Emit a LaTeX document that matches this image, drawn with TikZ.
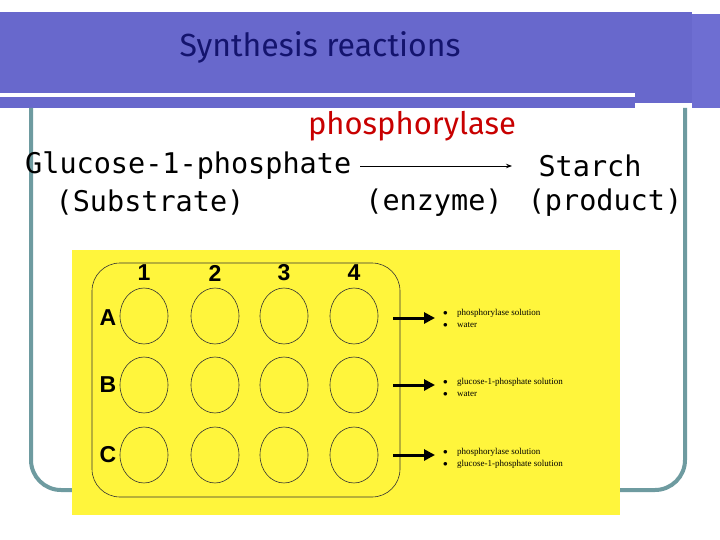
\documentclass[tikz,border=0pt]{standalone}
\usepackage{fontspec}
\usetikzlibrary{shapes.geometric,arrows.meta}
\setmainfont{Liberation Serif}
\newfontfamily\monof{DejaVu Sans Mono}
\newfontfamily\titf{Fira Sans}
\newfontfamily\labf{Liberation Sans}
\definecolor{band}{RGB}{104,104,204}
\definecolor{bandr}{RGB}{110,110,210}
\definecolor{navy}{RGB}{20,20,110}
\definecolor{teal2}{RGB}{110,155,160}
\definecolor{enzred}{RGB}{200,0,0}
\definecolor{sheet}{RGB}{255,245,60}
\begin{document}
\begin{tikzpicture}[x=1pt,y=-1pt,
  well/.style={draw=black!80,line width=0.6pt,ellipse,minimum width=48pt,minimum height=56pt,inner sep=0pt},
  collab/.style={font=\labf\bfseries\fontsize{23}{23}\selectfont},
  big/.style={font=\monof\fontsize{28.5}{28}\selectfont,inner sep=0pt},
  note/.style={font=\fontsize{9}{10}\selectfont,anchor=west,inner sep=0pt}]
\useasboundingbox (0,0) rectangle (720,540);
\fill[white] (0,0) rectangle (720,540);
% header
\fill[band] (0,12) rectangle (692,108);
\fill[bandr] (692,14) rectangle (720,108);
\fill[white] (0,93) rectangle (635,97);
\fill[white] (635,103) rectangle (692,108);
\node[font=\titf\fontsize{32}{32}\selectfont,text=navy] (title) at (320,47) {Synthesis reactions};
% teal frame
\draw[line width=4pt,teal2,rounded corners=30pt] (31,108) -- (31,490) -- (685,490) -- (685,108);
% reaction text
\node[text=enzred,font=\titf\fontsize{31}{31}\selectfont] (enz) at (412,126) {phosphorylase};
\node[big,anchor=west] (sub) at (25,166) {Glucose-1-phosphate};
\node[big] (prod) at (590,166) {Starch};
\node[big] (subl) at (150,203) {(Substrate)};
\node[big] (enzl) at (434,203) {(enzyme)};
\node[big] (prodl) at (605,203) {(product)};
\coordinate (a1) at (360,166); \coordinate (a2) at (512,166);
\draw[-{Stealth[length=6pt]},line width=0.8pt] (a1) -- (a2);
% yellow sheet
\fill[sheet] (72,250) rectangle (620,515);
\draw[black!80,line width=0.6pt,rounded corners=28pt] (92,263) rectangle (400,497);
\foreach \c/\x in {1/144,2/215,3/284,4/354}{
  \node[collab] (c\c) at (\x,273) {\c};
  \foreach \r/\y in {A/316,B/385,C/455}{\node[well] (w\r\c) at (\x,\y) {};}
}
\foreach \r/\y in {A/318,B/385,C/455}{
  \node[collab] (r\r) at (108,\y) {\r};
  \coordinate (s\r) at (393,\y); \coordinate (e\r) at (435,\y);
  \draw[-{Triangle[length=11pt,width=11pt]},line width=3pt] (s\r) -- (e\r);
}
\foreach \y/\t in {313/phosphorylase solution,325/water,382/glucose-1-phosphate solution,394/water,452/phosphorylase solution,464/glucose-1-phosphate solution}{
  \node[note] at (443,\y) {$\bullet$};
  \node[note] at (457,\y) {\t};
}
\end{tikzpicture}
\end{document}
